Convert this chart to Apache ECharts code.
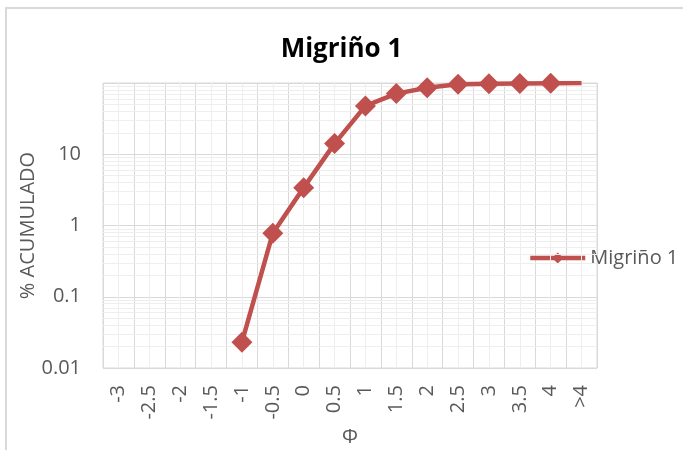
<!DOCTYPE html>
<html>
<head>
<meta charset="utf-8">
<script src="https://cdn.jsdelivr.net/npm/echarts@6/dist/echarts.min.js"></script>
<style>html,body{margin:0;padding:0;background:#fff}#c{width:683px;height:450px}</style>
</head>
<body>
<div id="c"></div>
<script>
var categories = ['-3','-2.5','-2','-1.5','-1','-0.5','0','0.5','1','1.5','2','2.5','3','3.5','4','>4'];
var values = [null, null, null, null, 0.023, 0.78, 3.4, 14.1, 47.7, 71, 86, 96, 97.5, 98.5, 99.2, 100];
var seriesName = 'Migriño 1';
var titleText = 'Migriño 1';
var yAxisName = '% ACUMULADO';
var xAxisName = 'Φ';
var yMinorTicks = [0.02,0.03,0.04,0.05,0.06,0.07,0.08,0.09,0.2,0.3,0.4,0.5,0.6,0.7,0.8,0.9,2,3,4,5,6,7,8,9,20,30,40,50,60,70,80,90];

var font = 'Open Sans';
var txt = '#595959';
var main = '#c0504d';

var lineData = values.map(function (v, i) {
  if (i === values.length - 1) return { value: v, symbol: 'none' };
  return v;
});

var chart = echarts.init(document.getElementById('c'), null, { renderer: 'canvas' });
chart.setOption({
  animation: false,
  backgroundColor: '#fff',
  title: {
    text: titleText, left: 'center', top: 32,
    textStyle: { fontFamily: font, fontWeight: 'bold', fontSize: 26, color: '#000' }
  },
  graphic: [{
    type: 'rect', shape: { x: 6, y: 8, width: 720, height: 480 },
    style: { fill: 'none', stroke: '#d9d9d9', lineWidth: 2 }, silent: true, z: -10
  }],
  legend: {
    data: [seriesName], orient: 'vertical', left: 523, top: 243,
    itemWidth: 55, itemHeight: 14, itemGap: 4,
    itemStyle: { color: main },
    lineStyle: { color: main, width: 4.5 },
    textStyle: { fontFamily: font, fontSize: 20, color: txt }
  },
  grid: { left: 103, right: 86, top: 83, bottom: 82, show: true, borderColor: '#d9d9d9', borderWidth: 1, outerBoundsMode: 'none', containLabel: false },
  xAxis: {
    type: 'category', data: categories, boundaryGap: true,
    name: xAxisName, nameLocation: 'middle', nameGap: 59, nameMoveOverlap: false,
    nameTextStyle: { fontFamily: font, fontSize: 20, color: txt },
    axisLine: { show: false }, axisTick: { show: false },
    axisLabel: { rotate: 90, margin: 17, fontFamily: font, fontSize: 20, color: txt, interval: 0 },
    splitLine: { show: true, interval: 0, lineStyle: { color: '#d9d9d9', width: 1 } }
  },
  yAxis: {
    type: 'log', logBase: 10, min: 0.01, max: 100,
    name: yAxisName, nameLocation: 'middle', nameGap: 65, nameMoveOverlap: false,
    nameTextStyle: { fontFamily: font, fontSize: 20, color: txt },
    axisLine: { show: false }, axisTick: { show: false },
    axisLabel: {
      fontFamily: font, fontSize: 20, color: txt, margin: 22, showMaxLabel: false,
      formatter: function (v) { return v >= 100 ? '' : String(+v.toPrecision(6)); }
    },
    splitLine: { show: true, lineStyle: { color: '#d9d9d9', width: 1 } }
  },
  series: [
    {
      name: '_grid', type: 'line', data: [], silent: true, z: 0,
      markLine: {
        silent: true, symbol: 'none', animation: false,
        label: { show: false },
        lineStyle: { color: '#eeeeee', width: 1, type: 'solid' },
        data: yMinorTicks.map(function (v) { return { yAxis: v }; })
          .concat(categories.map(function (c) { return { xAxis: c }; }))
      }
    },
    {
      name: seriesName, type: 'line', data: lineData, z: 5,
      connectNulls: false,
      symbol: 'diamond', symbolSize: 21,
      lineStyle: { color: main, width: 4.5 },
      itemStyle: { color: main }
    }
  ]
});
</script>
</body>
</html>
